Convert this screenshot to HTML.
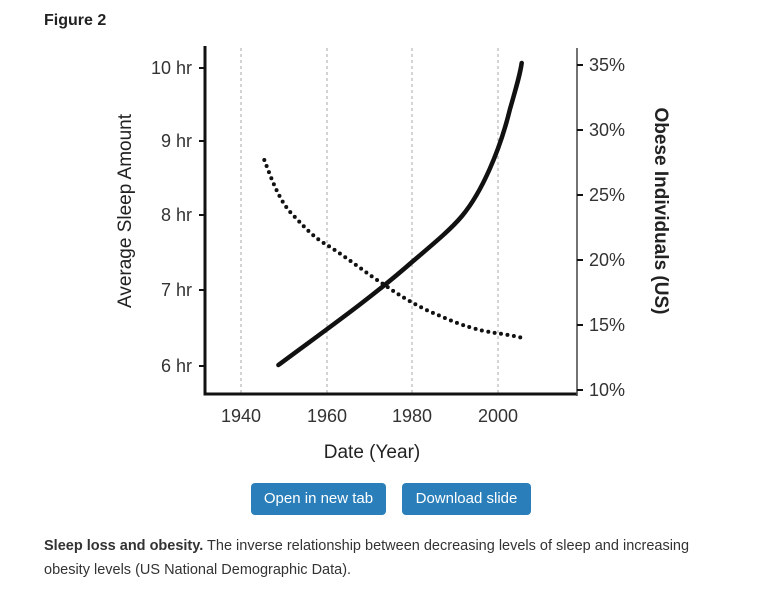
<!DOCTYPE html>
<html><head><meta charset="utf-8"><style>
body{margin:0;width:769px;height:601px;background:#fff;font-family:"Liberation Sans",sans-serif;position:relative;overflow:hidden}
.t{position:absolute;left:44px;top:12px;font-weight:bold;font-size:16px;color:#222}
.btn{position:absolute;top:483px;height:32px;background:#2a7fba;color:#fff;border-radius:4px;font-size:15px;line-height:32px;text-align:center}
.cap{position:absolute;left:44px;top:534px;width:690px;font-size:14.5px;line-height:24px;color:#333}
</style></head><body>
<div class="t">Figure 2</div>
<svg width="769" height="601" style="position:absolute;left:0;top:0" font-family="Liberation Sans, sans-serif">
<g stroke="#aaa" stroke-dasharray="3,3" stroke-width="1">
<line x1="241" y1="48" x2="241" y2="394"/><line x1="327" y1="48" x2="327" y2="394"/>
<line x1="412" y1="48" x2="412" y2="394"/><line x1="498" y1="48" x2="498" y2="394"/></g>
<path d="M205 46 V394 H577" fill="none" stroke="#111" stroke-width="3"/>
<line x1="577" y1="48" x2="577" y2="396" stroke="#444" stroke-width="1.5"/>
<g stroke="#111" stroke-width="2">
<line x1="199" y1="68" x2="205" y2="68"/><line x1="199" y1="141" x2="205" y2="141"/><line x1="199" y1="215" x2="205" y2="215"/><line x1="199" y1="290" x2="205" y2="290"/><line x1="199" y1="366" x2="205" y2="366"/>
<line x1="577" y1="65" x2="583" y2="65"/><line x1="577" y1="130" x2="583" y2="130"/><line x1="577" y1="195" x2="583" y2="195"/><line x1="577" y1="260" x2="583" y2="260"/><line x1="577" y1="325" x2="583" y2="325"/><line x1="577" y1="390" x2="583" y2="390"/></g>
<g font-size="18" fill="#333" text-anchor="end">
<text x="192" y="74">10 hr</text><text x="192" y="147">9 hr</text><text x="192" y="221">8 hr</text><text x="192" y="296">7 hr</text><text x="192" y="372">6 hr</text></g>
<g font-size="18" fill="#333">
<text x="589" y="71">35%</text><text x="589" y="136">30%</text><text x="589" y="201">25%</text><text x="589" y="266">20%</text><text x="589" y="331">15%</text><text x="589" y="396">10%</text></g>
<g font-size="18" fill="#333" text-anchor="middle">
<text x="241" y="422">1940</text><text x="327" y="422">1960</text><text x="412" y="422">1980</text><text x="498" y="422">2000</text>
<text x="372" y="458" font-size="19" fill="#222">Date (Year)</text></g>
<text transform="translate(131,211) rotate(-90)" text-anchor="middle" font-size="19" fill="#222">Average Sleep Amount</text>
<text transform="translate(655,211) rotate(90)" text-anchor="middle" font-size="19" font-weight="bold" fill="#222">Obese Individuals (US)</text>
<path d="M278.4 365 C320 334 370 299 412 262 C438 240 452 228 462 216 C482 192 500 150 510 109 C516 88 520 75 521.7 63" fill="none" stroke="#111" stroke-width="4.5" stroke-linecap="round"/>
<path d="M264.3 160 C272 180 280 203 294 216 C305 228 315 238 325.4 244 C345 256 370 276 384.7 285 C400 296 420 308 440.3 316 C460 325 480 331 495.8 333 C510 335 518 337 523.6 338" fill="none" stroke="#111" stroke-width="4" stroke-dasharray="0,6.5" stroke-linecap="round"/>
</svg>
<div class="btn" style="left:251px;width:135px">Open in new tab</div>
<div class="btn" style="left:402px;width:129px">Download slide</div>
<div class="cap"><b>Sleep loss and obesity.</b> The inverse relationship between decreasing levels of sleep and increasing obesity levels (US National Demographic Data).</div>
</body></html>
